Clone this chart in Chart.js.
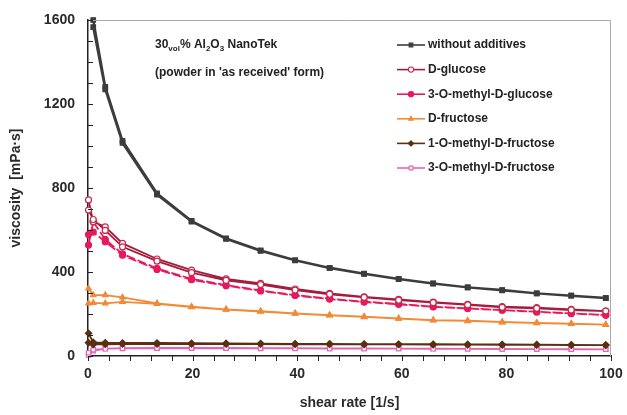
<!DOCTYPE html>
<html>
<head>
<meta charset="utf-8">
<script src="https://cdn.jsdelivr.net/npm/chart.js@4.4.1/dist/chart.umd.min.js"></script>
<style>
  html, body { margin: 0; padding: 0; background: #fff; }
  #wrap { width: 627px; height: 415px; }
</style>
</head>
<body>
<div id="wrap"><canvas id="viscChart" width="627" height="415"></canvas></div>
<script>
// shear rate steps (ramp up, then the same steps back down)
const shearRate = [0.1, 1, 3.3, 6.6, 13.2, 19.8, 26.4, 33, 39.6, 46.2, 52.8, 59.4, 66, 72.6, 79.2, 85.8, 92.4, 99];

const noAddUp   = [null, 1600, 1282, 1025, 774, 643, 560, 503, 456, 420, 392, 367, 346, 327, 314, 298, 287, 276];
const noAddDown = [null, 1566, 1270, 1015, 768, 640, 558, 501, 455, 419, 391, 366, 345, 327, 313, 298, 287, 276];

const glucoseUp   = [743, 639, 615, 536, 462, 409, 367, 346, 319, 298, 282, 270, 257, 246, 235, 230, 222, 214];
const glucoseDown = [695, 650, 598, 520, 452, 397, 360, 340, 314, 294, 279, 266, 254, 243, 232, 227, 219, 214];

const mGlucoseUp   = [528, 639, 555, 486, 417, 367, 338, 312, 290, 273, 259, 248, 235, 227, 219, 211, 203, 195];
const mGlucoseDown = [578, 590, 544, 480, 412, 363, 335, 310, 288, 271, 257, 246, 234, 226, 218, 210, 202, 195];

const fructoseUp   = [322, 290, 290, 279, 251, 235, 222, 214, 203, 195, 187, 179, 171, 168, 162, 158, 154, 149];
const fructoseDown = [251, 253, 251, 258, 248, 233, 221, 212, 202, 194, 186, 178, 170, 167, 161, 157, 153, 149];

const m1FructoseUp   = [108, 65, 63, 62, 62, 61, 60, 59, 58, 58, 57, 56, 56, 55, 55, 54, 53, 52];
const m1FructoseDown = [63, 55, 56, 57, 57, 57, 57, 57, 56, 56, 55, 55, 54, 54, 53, 53, 52, 52];

const m3FructoseUp   = [5, 25, 35, 37, 38, 38, 38, 37, 37, 36, 36, 35, 35, 34, 34, 33, 33, 32];
const m3FructoseDown = [15, 30, 34, 36, 37, 37, 37, 36, 36, 35, 35, 35, 34, 34, 33, 33, 32, 32];

const seriesNames = ['without additives', 'D-glucose', '3-O-methyl-D-glucose', 'D-fructose',
                     '1-O-methyl-D-fructose', '3-O-methyl-D-fructose'];
const yTicks = [0, 400, 800, 1200, 1600];
const xTicks = [0, 20, 40, 60, 80, 100];

const FONT = "'Liberation Sans', Arial, sans-serif";

// up sweep followed by down sweep, so the hysteresis loop is drawn
function loop(up, down) {
    const pts = shearRate.map((x, i) => ({ x, y: up[i] }));
    for (let i = shearRate.length - 1; i >= 0; i--) {
        pts.push({ x: shearRate[i], y: down[i] });
    }
    return pts;
}

function serie(label, up, down, line, marker, fill, style, radius, dash) {
    return {
        label,
        data: loop(up, down),
        borderColor: line,
        backgroundColor: fill,
        borderWidth: 1.8,
        borderDash: dash || [],
        pointStyle: style,
        pointRadius: radius,
        pointBorderColor: marker,
        pointBackgroundColor: fill,
        pointBorderWidth: 1.2,
        spanGaps: true,
        tension: 0,
        clip: 6
    };
}

const datasets = [
    serie(seriesNames[0], noAddUp, noAddDown, '#3c3c3c', '#3c3c3c', '#3c3c3c', 'rect', 3.2),
    serie(seriesNames[1], glucoseUp, glucoseDown, '#a51d3c', '#c8284c', '#ffffff', 'circle', 3),
    serie(seriesNames[2], mGlucoseUp, mGlucoseDown, '#e8195c', '#e8195c', '#e8195c', 'circle', 3, [9, 3]),
    serie(seriesNames[3], fructoseUp, fructoseDown, '#f28a36', '#f28a36', '#f28a36', 'triangle', 3.2),
    serie(seriesNames[4], m1FructoseUp, m1FructoseDown, '#5a3010', '#5a3010', '#5a3010', 'rectRot', 3.2),
    serie(seriesNames[5], m3FructoseUp, m3FructoseDown, '#e464b4', '#e464b4', '#ffffff', 'rect', 3)
];
datasets[0].borderWidth = 2.4;

// frame, minor ticks, legend and the sample note
const extras = {
    id: 'extras',
    afterDraw(chart) {
        const ctx = chart.ctx;
        const a = chart.chartArea;
        const xs = chart.scales.x, ys = chart.scales.y;
        ctx.save();

        ctx.strokeStyle = '#a8a8a8';
        ctx.lineWidth = 1;
        ctx.beginPath();
        ctx.moveTo(a.left, a.top + 0.5);
        ctx.lineTo(a.right - 0.5, a.top + 0.5);
        ctx.lineTo(a.right - 0.5, a.bottom);
        ctx.stroke();

        ctx.strokeStyle = '#222';
        ctx.lineWidth = 1;
        ctx.beginPath();
        for (let v = 0; v <= 1600; v += 100) {
            const py = Math.round(ys.getPixelForValue(v)) + 0.5;
            ctx.moveTo(a.left, py);
            ctx.lineTo(a.left + 5, py);
        }
        for (let v = 0; v <= 100; v += 4) {
            const px = Math.round(xs.getPixelForValue(v)) + 0.5;
            ctx.moveTo(px, a.bottom);
            ctx.lineTo(px, a.bottom + 5);
        }
        ctx.stroke();

        // legend
        const lx = 397;
        let ly = a.top + 25;
        chart.data.datasets.forEach(ds => {
            ctx.strokeStyle = ds.borderColor;
            ctx.lineWidth = 1.6;
            ctx.setLineDash([]);
            ctx.beginPath();
            ctx.moveTo(lx, ly);
            ctx.lineTo(lx + 28, ly);
            ctx.stroke();
            ctx.fillStyle = ds.pointBackgroundColor;
            ctx.strokeStyle = ds.pointBorderColor;
            ctx.lineWidth = 1.1;
            Chart.helpers.drawPoint(ctx, { pointStyle: ds.pointStyle, radius: 2.6, borderWidth: 1.1, rotation: 0 }, lx + 14, ly);
            ctx.fillStyle = '#222';
            ctx.font = "bold 12px " + FONT;
            ctx.textBaseline = 'middle';
            ctx.textAlign = 'left';
            ctx.fillText(ds.label, lx + 31, ly);
            ly += 24.6;
        });

        // note with subscripts
        let tx = a.left + 67;
        const ty = a.top + 25;
        const parts = [['30', 0], ['vol', 1], ['% Al', 0], ['2', 1], ['O', 0], ['3', 1], [' NanoTek', 0]];
        ctx.fillStyle = '#222';
        ctx.textBaseline = 'middle';
        parts.forEach(([t, sub]) => {
            ctx.font = (sub ? "bold 8px " : "bold 12px ") + FONT;
            ctx.fillText(t, tx, sub ? ty + 4 : ty);
            tx += ctx.measureText(t).width;
        });
        ctx.font = "bold 12px " + FONT;
        ctx.fillText("(powder in 'as received' form)", a.left + 67, a.top + 53);

        ctx.restore();
    }
};

new Chart(document.getElementById('viscChart'), {
    type: 'line',
    data: { datasets },
    options: {
        responsive: false,
        animation: false,
        layout: { padding: { top: 20, right: 16, left: 0, bottom: 0 } },
        plugins: {
            legend: { display: false },
            tooltip: { enabled: false }
        },
        scales: {
            x: {
                type: 'linear',
                min: 0,
                max: 100,
                afterFit: s => { s.height = 59; s.paddingLeft = 0; s.paddingRight = 0; },
                afterBuildTicks: s => { s.ticks = xTicks.map(v => ({ value: v })); },
                grid: { display: false, drawTicks: false },
                border: { color: '#222', width: 1.5 },
                ticks: { padding: 10, color: '#2a2a2a', callback: v => String(v), font: { family: FONT, size: 14, weight: 'bold' } },
                title: {
                    display: true,
                    text: 'shear rate [1/s]',
                    color: '#2a2a2a',
                    font: { family: FONT, size: 14, weight: 'bold' },
                    padding: { top: 0, bottom: 3 }
                }
            },
            y: {
                min: 0,
                max: 1600,
                afterFit: s => { s.width = 88; s.paddingTop = 0; s.paddingBottom = 0; },
                afterBuildTicks: s => { s.ticks = yTicks.map(v => ({ value: v })); },
                grid: { display: false, drawTicks: false },
                border: { color: '#222', width: 1.5 },
                ticks: { padding: 13, color: '#2a2a2a', callback: v => String(v), font: { family: FONT, size: 14, weight: 'bold' } },
                title: {
                    display: true,
                    text: 'viscosity  [mPa·s]',
                    color: '#2a2a2a',
                    font: { family: FONT, size: 14, weight: 'bold' },
                    padding: { top: 8, bottom: 0 }
                }
            }
        }
    },
    plugins: [extras]
});
</script>
</body>
</html>
